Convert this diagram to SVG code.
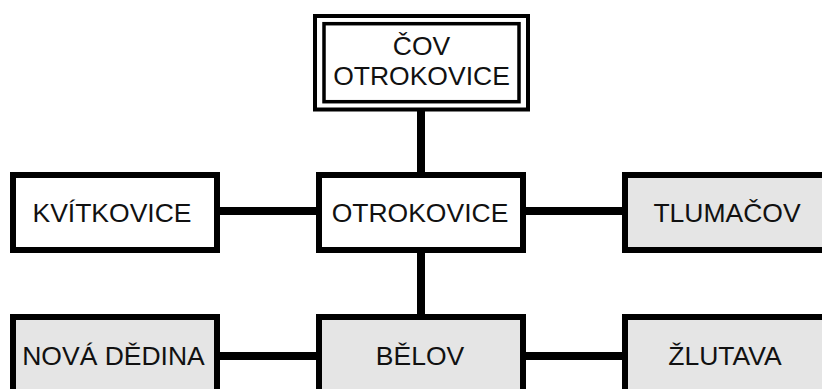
<svg xmlns="http://www.w3.org/2000/svg" width="822" height="389" viewBox="0 0 822 389">
  <style>
    .box { stroke: #000; stroke-width: 6; }
    .plain { fill: #fff; }
    .grey { fill: #e5e5e5; }
    .label { font-family: "Liberation Sans", Arial, sans-serif; font-size: 26.5px; fill: #111; text-anchor: middle; }
    .link { stroke: #000; stroke-width: 8; fill: none; }
  </style>
  <rect width="822" height="389" fill="#fff"/>

  <!-- connectors -->
  <g id="connectors">
    <line class="link" x1="421" y1="110" x2="421" y2="176"/>
    <line class="link" x1="421" y1="250" x2="421" y2="318"/>
    <line class="link" x1="217" y1="211" x2="319" y2="211"/>
    <line class="link" x1="523" y1="211" x2="625" y2="211"/>
    <line class="link" x1="217" y1="356" x2="319" y2="356"/>
    <line class="link" x1="523" y1="356" x2="625" y2="356"/>
  </g>

  <!-- treatment plant (double frame) -->
  <g id="cov-otrokovice">
    <rect x="315" y="16" width="213" height="93.5" fill="#fff" stroke="#000" stroke-width="4"/>
    <rect x="324" y="23.7" width="195" height="78" fill="#fff" stroke="#000" stroke-width="3.5"/>
    <text class="label" x="421.5" y="55">ČOV</text>
    <text class="label" x="421.5" y="85">OTROKOVICE</text>
  </g>

  <g id="kvitkovice">
    <rect class="box plain" x="13" y="175" width="204" height="75"/>
    <text class="label" x="112" y="222">KVÍTKOVICE</text>
  </g>

  <g id="otrokovice">
    <rect class="box plain" x="319" y="175" width="204" height="75"/>
    <text class="label" x="420" y="222">OTROKOVICE</text>
  </g>

  <g id="tlumacov">
    <rect class="box grey" x="625" y="175" width="204" height="75"/>
    <text class="label" x="727" y="222">TLUMAČOV</text>
  </g>

  <g id="nova-dedina">
    <rect class="box grey" x="13" y="317" width="204" height="80"/>
    <text class="label" x="113.5" y="365">NOVÁ DĚDINA</text>
  </g>

  <g id="belov">
    <rect class="box grey" x="319" y="317" width="204" height="80"/>
    <text class="label" x="420" y="365">BĚLOV</text>
  </g>

  <g id="zlutava">
    <rect class="box grey" x="625" y="317" width="204" height="80"/>
    <text class="label" x="725" y="365">ŽLUTAVA</text>
  </g>
</svg>
